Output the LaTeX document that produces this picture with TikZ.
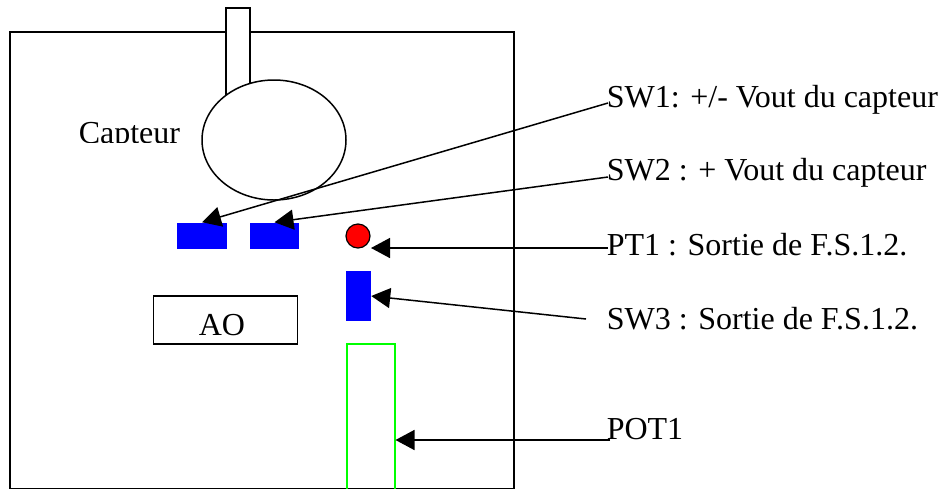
\documentclass[tikz,border=0pt]{standalone}
\usepackage{fontspec}
\setmainfont{Liberation Serif}
\usetikzlibrary{arrows.meta,shapes.geometric}
\begin{document}
\begin{tikzpicture}[x=1pt,y=-1pt,line width=1.5pt,
  lbl/.style={anchor=base west,inner sep=0pt,font=\fontsize{32}{38}\selectfont},
  ptr/.style={-{Triangle[length=19pt,width=20pt]},line width=1.5pt},
  swbox/.style={fill=blue,draw=none,inner sep=0pt}]
\useasboundingbox (0,0) rectangle (944,488);
% main board
\draw (10,32) rectangle (514,488.6);
% sensor stem and body
\draw[fill=white] (226,8) rectangle (250,110);
\node[draw,fill=white,ellipse,inner sep=0pt,minimum width=144pt,minimum height=120pt] (capt) at (274,140) {};
\begin{scope}
  \clip (0,0) rectangle (944,142.6);
  \node[lbl] (captlbl) at (78,143.5) {Capteur};
\end{scope}
% components
\node[swbox,minimum width=50pt,minimum height=26pt] (sw1) at (202,236) {};
\node[swbox,minimum width=49pt,minimum height=26pt] (sw2) at (274.5,236) {};
\node[circle,draw,fill=red,minimum size=24pt,inner sep=0pt,line width=1.2pt] (pt1) at (358,236) {};
\node[swbox,minimum width=25pt,minimum height=50pt] (sw3) at (358,296) {};
\node[draw,line width=1.3pt,minimum width=144pt,minimum height=48pt,inner sep=0pt] (ao) at (225.7,320) {};
\node[lbl] (aolbl) at (198,335) {AO};
\node[draw=green,line width=2pt,minimum width=48pt,minimum height=148pt,inner sep=0pt] (pot) at (370.5,418) {};
% labels
\node[lbl] (l1) at (606,107) {SW1: +/- Vout du capteur};
\node[lbl] (l2) at (606,180) {SW2 : + Vout du capteur};
\node[lbl] (l3) at (606,255) {PT1 : Sortie de F.S.1.2.};
\node[lbl] (l4) at (606,329) {SW3 : Sortie de F.S.1.2.};
\node[lbl] (l5) at (606,439) {POT1};
% connector start points
\coordinate (a1) at (608,103);
\coordinate (a2) at (608,177);
\coordinate (a3) at (608,248);
\coordinate (a4) at (586,319);
\coordinate (a5) at (610,440);
\coordinate (t3) at (371,248);
% connectors
\draw[ptr] (a1) -- (sw1.north);
\draw[ptr] (a2) -- (sw2.north);
\draw[ptr] (a3) -- (t3);
\draw[ptr] (a4) -- (sw3.east);
\draw[ptr] (a5) -- (pot.east |- a5);
\end{tikzpicture}
\end{document}
